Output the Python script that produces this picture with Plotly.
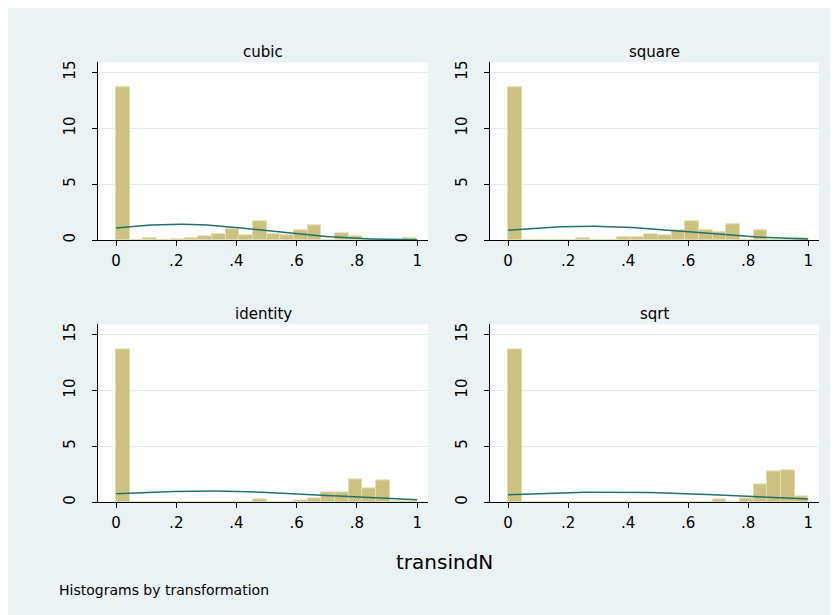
import numpy as np
import plotly.graph_objects as go

# ---------------- data ----------------
panel_names = ["cubic", "square", "identity", "sqrt"]
n_bins = 22
bin_lo, bin_hi = 0.0, 1.0

dens_cubic = [13.7, 0, 0.2, 0, 0.1, 0.2, 0.3, 0.55, 1.0, 0.45, 1.65,
              0.55, 0.45, 0.9, 1.3, 0, 0.65, 0.3, 0, 0, 0, 0.2]
dens_square = [13.7, 0, 0, 0, 0, 0.2, 0, 0, 0.25, 0.25, 0.5,
               0.45, 0.9, 1.65, 0.85, 0.7, 1.4, 0, 0.9, 0, 0, 0.2]
dens_identity = [13.7, 0, 0, 0, 0, 0, 0, 0, 0, 0, 0.25,
                 0, 0, 0.15, 0.35, 0.85, 0.85, 2.05, 1.25, 1.95, 0.1, 0.1]
dens_sqrt = [13.7, 0, 0, 0, 0, 0, 0, 0, 0, 0, 0,
             0, 0, 0, 0, 0.25, 0, 0.35, 1.55, 2.8, 2.85, 0.55]

# normal-density overlay parameters (mean, sd)
norm_mu = [0.21, 0.27, 0.30, 0.34]
norm_sd = [0.281, 0.322, 0.40, 0.443]

x_ticks = [0, 0.2, 0.4, 0.6, 0.8, 1]
x_tick_labels = ["0", ".2", ".4", ".6", ".8", "1"]
y_ticks = [0, 5, 10, 15]
y_tick_labels = ["0", "5", "10", "15"]

x_title = "transindN"
note = "Histograms by transformation"

densities = [dens_cubic, dens_square, dens_identity, dens_sqrt]

# ---------------- styling / layout ----------------
OX, OY = 8, 8            # page offset of the figure in the screenshot
W, H = 830, 607
BG = "#EAF2F3"
BAR_FILL = "#CBC282"
BAR_LINE = "#E2DCB2"
CURVE = "#22726A"
FONT = "DejaVu Sans, Liberation Sans, Arial, sans-serif"

def px_x(p):
    return (p - OX) / W

def px_y(p):
    return 1 - (p - OY) / H

x_domains = [[px_x(98), px_x(428)], [px_x(490), px_x(819)]]
y_domains = [[px_y(240), px_y(60.7)], [px_y(504.3), px_y(325)]]

fig = go.Figure()

bin_w = (bin_hi - bin_lo) / n_bins
centers = [bin_lo + (i + 0.5) * bin_w for i in range(n_bins)]
xs = np.linspace(0, 1, 201)

for k, name in enumerate(panel_names):
    row, col = divmod(k, 2)
    xa = "x" if k == 0 else f"x{k+1}"
    ya = "y" if k == 0 else f"y{k+1}"
    fig.add_trace(go.Bar(
        x=centers, y=densities[k], width=bin_w,
        marker=dict(color=BAR_FILL, line=dict(color=BAR_LINE, width=1)),
        xaxis=xa, yaxis=ya, showlegend=False, hoverinfo="skip"))
    mu, sd = norm_mu[k], norm_sd[k]
    ys = np.exp(-0.5 * ((xs - mu) / sd) ** 2) / (sd * np.sqrt(2 * np.pi))
    fig.add_trace(go.Scatter(
        x=xs, y=ys, mode="lines", line=dict(color=CURVE, width=1.5),
        xaxis=xa, yaxis=ya, showlegend=False, hoverinfo="skip"))

    axis_common = dict(showline=True, linecolor="#000000", linewidth=1,
                       ticks="outside", ticklen=5, tickwidth=1, tickcolor="#000000",
                       tickfont=dict(family=FONT, size=15, color="#000000"),
                       zeroline=False)
    xkey = "xaxis" if k == 0 else f"xaxis{k+1}"
    ykey = "yaxis" if k == 0 else f"yaxis{k+1}"
    fig.layout[xkey] = dict(domain=x_domains[col], anchor=ya, range=[-0.06, 1.036],
                            tickvals=x_ticks, ticktext=x_tick_labels, showgrid=False,
                            ticklabelstandoff=2, **axis_common)
    fig.layout[ykey] = dict(domain=y_domains[row], anchor=xa, range=[0, 15.9],
                            tickvals=y_ticks, ticktext=y_tick_labels, showgrid=True,
                            gridcolor="#E3ECEE", gridwidth=1, tickangle=-90,
                            ticklabelstandoff=11, **axis_common)
    xc = (x_domains[col][0] + x_domains[col][1]) / 2
    ty = px_y(50) if row == 0 else px_y(315)
    fig.add_annotation(text=name, x=xc, y=ty, xref="paper", yref="paper",
                       showarrow=False, xanchor="center", yanchor="middle",
                       font=dict(family=FONT, size=15, color="#000000"))

fig.add_annotation(text=x_title, x=px_x(444), y=px_y(565), xref="paper", yref="paper",
                   showarrow=False, xanchor="center", yanchor="middle",
                   font=dict(family=FONT, size=20, color="#000000"))
fig.add_annotation(text=note, x=px_x(57), y=px_y(593), xref="paper", yref="paper",
                   showarrow=False, xanchor="left", yanchor="middle",
                   font=dict(family=FONT, size=14, color="#000000"))

fig.update_layout(
    width=W, height=H, margin=dict(l=0, r=0, t=0, b=0),
    paper_bgcolor=BG, plot_bgcolor="#FFFFFF",
    bargap=0, barmode="overlay",
    font=dict(family=FONT, color="#000000"),
)

fig.write_html("out.html")
